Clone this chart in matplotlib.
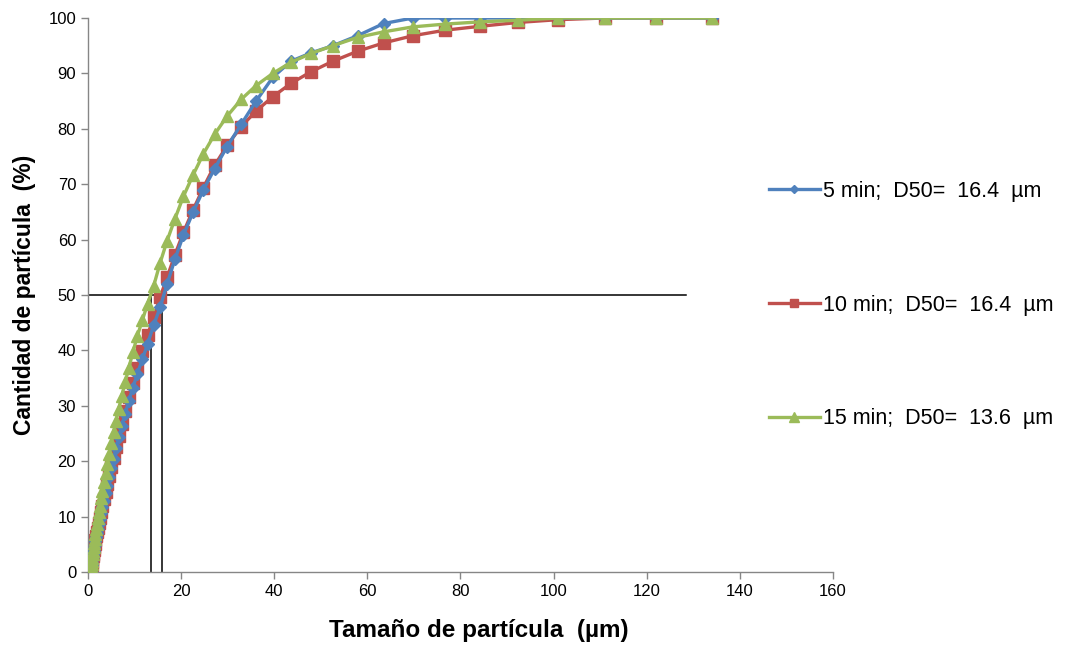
"""
Distribucion acumulada del tamano de particula para tres tiempos de molienda.
"""
import matplotlib
matplotlib.use("Agg")
import matplotlib.pyplot as plt

# Tamanos de particula (um)
size_um = [0.52, 0.57, 0.63, 0.69, 0.76, 0.84, 0.92, 1.01, 1.11, 1.22, 1.34,
           1.47, 1.61, 1.77, 1.95, 2.14, 2.35, 2.58, 2.84, 3.12, 3.43, 3.77,
           4.14, 4.55, 5.0, 5.49, 6.03, 6.63, 7.28, 8.0, 8.79, 9.66, 10.6,
           11.7, 12.8, 14.1, 15.5, 17.0, 18.7, 20.5, 22.6, 24.8, 27.2, 29.9,
           32.9, 36.1, 39.7, 43.6, 47.9, 52.6, 57.9, 63.5, 69.8, 76.7, 84.2,
           92.4, 101.0, 111.0, 122.0, 134.0]

# Cantidad acumulada (%)
pct_5min = [0, 0.2, 0.5, 0.8, 1.2, 1.7, 2.2, 2.7, 3.2, 3.7, 4.3,
            4.9, 5.6, 6.3, 7.0, 7.8, 8.7, 9.6, 10.6, 11.7, 12.9, 14.2,
            15.6, 17.1, 18.7, 20.4, 22.3, 24.3, 26.4, 28.6, 30.9, 33.3, 35.8,
            38.4, 41.2, 44.5, 47.8, 52.0, 56.5, 60.8, 65.0, 69.0, 72.8, 76.8,
            80.8, 85.0, 89.3, 92.2, 93.7, 95.0, 96.8, 99.0, 100, 100, 100,
            100, 100, 100, 100, 100]
pct_10min = [0, 0.2, 0.5, 0.9, 1.3, 1.8, 2.3, 2.8, 3.3, 3.9, 4.5,
             5.1, 5.8, 6.5, 7.2, 8.0, 8.9, 9.8, 10.8, 11.9, 13.1, 14.4,
             15.8, 17.3, 18.9, 20.6, 22.5, 24.5, 26.7, 29.0, 31.5, 34.1, 36.8,
             39.8, 42.8, 46.0, 49.6, 53.2, 57.3, 61.3, 65.4, 69.4, 73.4, 77.0,
             80.4, 83.2, 85.8, 88.2, 90.3, 92.2, 94.0, 95.5, 96.8, 97.8, 98.5,
             99.2, 99.7, 100, 100, 100]
pct_15min = [0, 0.3, 0.6, 1.0, 1.5, 2.0, 2.6, 3.2, 3.8, 4.5, 5.2,
             6.0, 6.8, 7.7, 8.7, 9.7, 10.8, 12.0, 13.3, 14.7, 16.2, 17.8,
             19.5, 21.3, 23.2, 25.2, 27.3, 29.5, 31.8, 34.3, 36.9, 39.7, 42.6,
             45.5, 48.4, 51.6, 55.8, 59.8, 63.8, 67.8, 71.7, 75.5, 79.0, 82.3,
             85.3, 87.8, 90.0, 92.0, 93.6, 95.0, 96.5, 97.5, 98.4, 98.9, 99.3,
             99.6, 100, 100, 100, 100]

labels = ["5 min;  D50=  16.4  µm", "10 min;  D50=  16.4  µm", "15 min;  D50=  13.6  µm"]

# Lineas guia del D50
d50_level = 50
d50_line_end = 128.5
d50_marks = [13.6, 16.0]

x_ticks = list(range(0, 161, 20))
y_ticks = list(range(0, 101, 10))

BLUE = "#4F81BD"
RED = "#C0504D"
GREEN = "#9BBB59"


def main() -> None:
    plt.rcParams["font.family"] = ["Liberation Sans", "DejaVu Sans"]

    fig = plt.figure(figsize=(10.78, 6.45), dpi=100)
    ax = fig.add_axes([0.0816, 0.1132, 0.6911, 0.8589])

    # Lineas guia
    ax.plot([0, d50_line_end], [d50_level, d50_level], color="black", lw=1.1, zorder=1)
    for xm in d50_marks:
        ax.plot([xm, xm], [0, d50_level], color="black", lw=1.1, zorder=1)

    ax.plot(size_um, pct_5min, color=BLUE, lw=2.4, marker="D", ms=6,
            label=labels[0], zorder=3)
    ax.plot(size_um, pct_10min, color=RED, lw=2.4, marker="s", ms=8,
            label=labels[1], zorder=2)
    ax.plot(size_um, pct_15min, color=GREEN, lw=2.4, marker="^", ms=9,
            label=labels[2], zorder=4)

    ax.set_xlim(0, 160)
    ax.set_ylim(0, 100)
    ax.set_xticks(x_ticks)
    ax.set_yticks(y_ticks)

    for side in ["top", "right"]:
        ax.spines[side].set_visible(False)
    for side in ["left", "bottom"]:
        ax.spines[side].set_color("#868686")
        ax.spines[side].set_linewidth(1.0)
    ax.tick_params(direction="out", length=5, color="#868686", width=1.0)

    for lbl in ax.get_xticklabels() + ax.get_yticklabels():
        lbl.set_fontsize(12)

    ax.set_xlabel("Tamaño de partícula  (µm)", fontsize=17.5,
                  fontweight="bold", labelpad=12)
    ax.xaxis.set_label_coords(0.524, -0.085)
    ax.set_ylabel("Cantidad de partícula  (%)", fontsize=16.5,
                  fontweight="bold", labelpad=9)

    fig.legend(loc="center left", bbox_to_anchor=(0.695, 0.527), frameon=False,
               fontsize=15.5, labelspacing=4.3, handlelength=2.4,
               handletextpad=0.15, markerscale=0.75)

    fig.savefig("out.png", dpi=100)


if __name__ == "__main__":
    main()
